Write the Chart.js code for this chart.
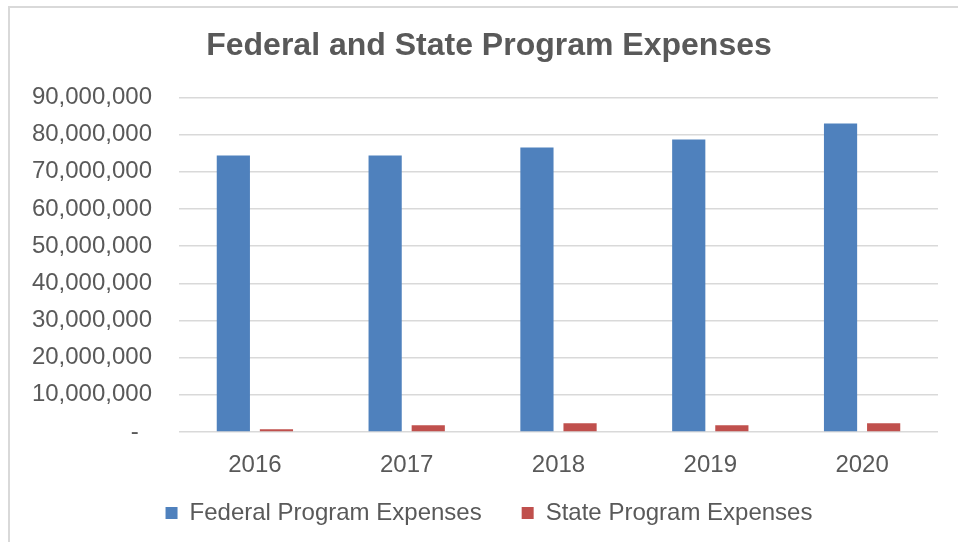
<!DOCTYPE html>
<html>
<head>
<meta charset="utf-8">
<script src="https://cdn.jsdelivr.net/npm/chart.js@4"></script>
<style>
  html, body { margin: 0; padding: 0; background: #ffffff; overflow: hidden; }
  #wrap { position: relative; width: 958px; height: 542px; }
  #frame { position: absolute; left: 8px; top: 6px; width: 2000px; height: 2000px;
           border-left: 2px solid #D9D9D9; border-top: 2px solid #D9D9D9; }
  canvas { position: absolute; left: 0; top: 0; }
</style>
</head>
<body>
<div id="wrap">
  <div id="frame"></div>
  <canvas id="c" width="958" height="542"></canvas>
</div>
<script>
const titleText = 'Federal and State Program Expenses';
const categories = ['2016', '2017', '2018', '2019', '2020'];
const federalExpenses = [74400000, 74400000, 76500000, 78700000, 83000000];
const stateExpenses = [730000, 1800000, 2340000, 1800000, 2340000];
const seriesNames = ['Federal Program Expenses', 'State Program Expenses'];
const yTickValues = [0, 10000000, 20000000, 30000000, 40000000, 50000000, 60000000, 70000000, 80000000, 90000000];

const FONT = '"Liberation Sans", Arial, sans-serif';
const TEXT = '#595959';

// let tick labels draw outside their (tightly sized) scale boxes
const noLabelClip = {
  id: 'noLabelClip',
  beforeDraw(chart) {
    Object.values(chart.scales).forEach(s => { s._computeLabelArea = () => undefined; });
  }
};

new Chart(document.getElementById('c'), {
  type: 'bar',
  data: {
    labels: categories,
    datasets: [
      { label: seriesNames[0], data: federalExpenses, backgroundColor: '#4F81BD',
        categoryPercentage: 0.568, barPercentage: 0.77 },
      { label: seriesNames[1], data: stateExpenses, backgroundColor: '#C0504D',
        categoryPercentage: 0.568, barPercentage: 0.77 }
    ]
  },
  plugins: [noLabelClip],
  options: {
    responsive: false,
    animation: false,
    devicePixelRatio: 1,
    layout: { padding: { left: 40, right: 20, top: 0, bottom: 7 } },
    plugins: {
      title: {
        display: true, text: titleText, color: TEXT,
        font: { family: FONT, size: 32, weight: 'bold' },
        padding: { top: 27, bottom: 32 }
      },
      legend: {
        position: 'bottom',
        labels: {
          color: TEXT, font: { family: FONT, size: 24 },
          boxWidth: 12, boxHeight: 12, padding: 40
        }
      },
      tooltip: { enabled: false }
    },
    scales: {
      x: {
        grid: { display: false },
        border: { display: false },
        ticks: { color: TEXT, font: { family: FONT, size: 24 }, padding: 11 },
        afterFit: (s) => { s.height = 29; }
      },
      y: {
        min: 0, max: 90000000,
        afterBuildTicks: (s) => { s.ticks = yTickValues.map(v => ({ value: v })); },
        grid: { color: '#D9D9D9', lineWidth: 1.5, drawTicks: false },
        border: { display: false },
        ticks: {
          color: TEXT, font: { family: FONT, size: 24 }, padding: 27,
          callback: (v) => v === 0 ? '-  ' : Number(v).toLocaleString('en-US')
        },
        afterFit: (s) => { s.width = 139; }
      }
    }
  }
});
</script>
</body>
</html>
